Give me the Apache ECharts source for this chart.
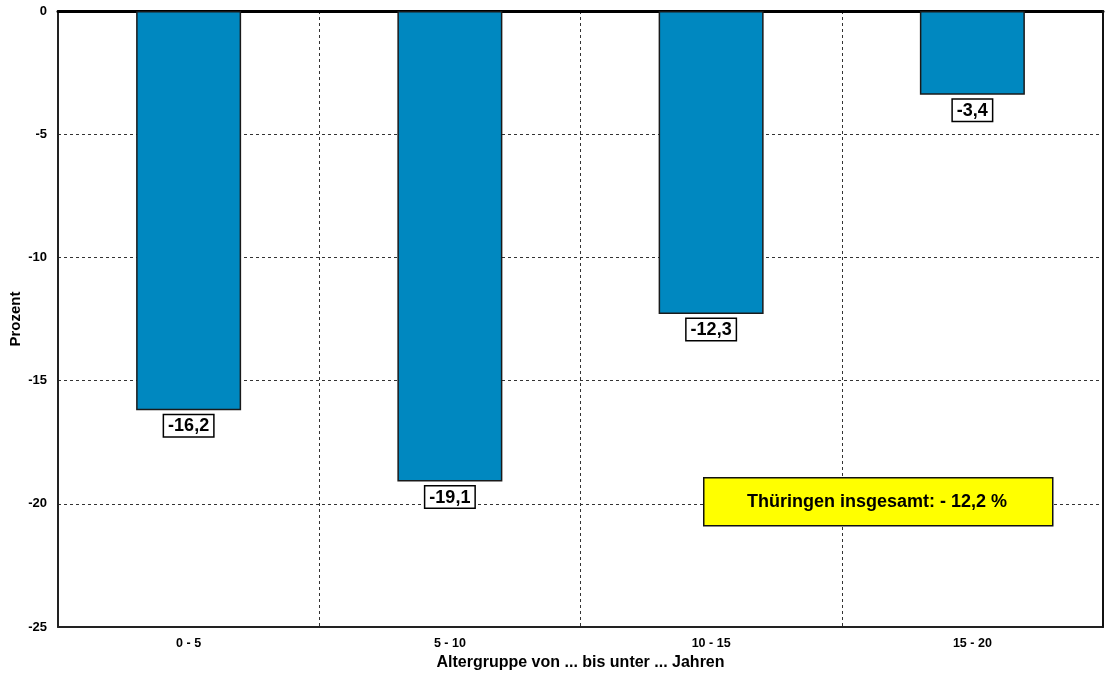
<!DOCTYPE html>
<html>
<head>
<meta charset="utf-8">
<script src="https://cdn.jsdelivr.net/npm/echarts@6/dist/echarts.min.js"></script>
<style>
  html, body { margin: 0; padding: 0; background: #fff; }
  #container { width: 1105px; height: 675px; }
</style>
</head>
<body>
<div id="container"></div>
<script>
// Altersgruppen und Veränderung in Prozent
var categories = ['0 - 5', '5 - 10', '10 - 15', '15 - 20'];
var values = [-16.2, -19.1, -12.3, -3.4];
var yTicks = { min: -25, max: 0, interval: 5 };
var totalText = 'Thüringen insgesamt: - 12,2 %';

var font = 'Liberation Sans, Arial, sans-serif';
var dom = document.getElementById('container');
var myChart = echarts.init(dom);

var option = {
  animation: false,
  grid: { left: 58, right: 2, top: 11, bottom: 48, containLabel: false, outerBoundsMode: 'none' },
  xAxis: [
    {
      type: 'category',
      data: categories,
      position: 'bottom',
      name: 'Altergruppe von ... bis unter ... Jahren',
      nameLocation: 'middle',
      nameGap: 24,
      nameTextStyle: { fontFamily: font, fontWeight: 'bold', fontSize: 16, color: '#000' },
      axisLine: { onZero: false, lineStyle: { color: '#222', width: 2 } },
      axisTick: { show: false },
      axisLabel: { fontFamily: font, fontWeight: 'bold', fontSize: 12.5, color: '#000', margin: 10 },
      splitLine: { show: true, showMinLine: false, showMaxLine: false, lineStyle: { color: '#333', width: 1, type: [3, 3] } }
    },
    {
      // dicke Nulllinie oben
      type: 'category',
      data: categories,
      position: 'top',
      axisLine: { onZero: false, lineStyle: { color: '#000', width: 3 } },
      axisTick: { show: false },
      axisLabel: { show: false },
      splitLine: { show: false }
    }
  ],
  yAxis: [
    {
      type: 'value',
      min: yTicks.min,
      max: yTicks.max,
      interval: yTicks.interval,
      name: 'Prozent',
      nameLocation: 'middle',
      nameGap: 35,
      nameMoveOverlap: false,
      nameTextStyle: { fontFamily: font, fontWeight: 'bold', fontSize: 15, color: '#000' },
      axisLine: { show: true, lineStyle: { color: '#222', width: 2 } },
      axisTick: { show: false },
      axisLabel: { fontFamily: font, fontWeight: 'bold', fontSize: 13, color: '#000', margin: 11 },
      splitLine: { show: true, lineStyle: { color: '#333', width: 1, type: [3, 3] } }
    },
    {
      // rechter Rahmen
      type: 'value',
      position: 'right',
      min: yTicks.min,
      max: yTicks.max,
      interval: yTicks.interval,
      axisLine: { show: true, onZero: false, lineStyle: { color: '#111', width: 2 } },
      axisTick: { show: false },
      axisLabel: { show: false },
      splitLine: { show: false },
      z: 5
    }
  ],
  series: [
    {
      type: 'bar',
      data: values,
      xAxisIndex: 0,
      yAxisIndex: 0,
      barWidth: 105,
      itemStyle: { color: '#0088c0', borderColor: '#1a1a1a', borderWidth: 1.5 },
      label: {
        show: true,
        position: 'bottom',
        distance: 5,
        formatter: function (p) { return String(p.value).replace('.', ','); },
        fontFamily: font,
        fontWeight: 'bold',
        fontSize: 18,
        color: '#000',
        backgroundColor: '#fff',
        borderColor: '#000',
        borderWidth: 1.5,
        padding: [2, 4, 1, 4]
      }
    }
  ],
  graphic: [
    {
      type: 'rect',
      left: 703,
      top: 477,
      shape: { width: 349, height: 48 },
      style: { fill: '#ffff00', stroke: '#111', lineWidth: 1.5 },
      z: 100
    },
    {
      type: 'text',
      x: 877,
      y: 502,
      style: {
        text: totalText,
        fontFamily: font,
        fontWeight: 'bold',
        fontSize: 18,
        fill: '#000',
        align: 'center',
        verticalAlign: 'middle'
      },
      z: 101
    }
  ]
};
myChart.setOption(option);
</script>
</body>
</html>
